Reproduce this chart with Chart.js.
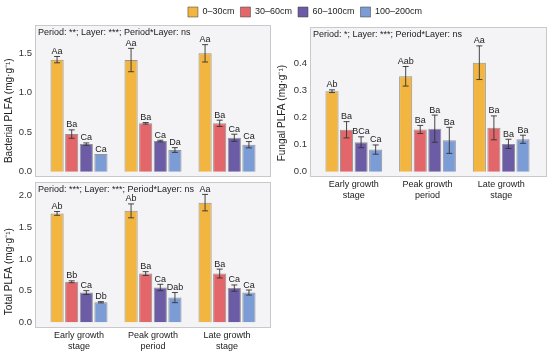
<!DOCTYPE html>
<html>
<head>
<meta charset="utf-8">
<script src="https://cdn.jsdelivr.net/npm/chart.js@4.4.1/dist/chart.umd.min.js"></script>
<style>
  body { margin: 0; background: #fff; }
  #wrap { position: relative; width: 550px; height: 354px; }
  canvas { position: absolute; }
</style>
</head>
<body>
<div id="wrap">
  <canvas id="bacChart" width="275" height="180" style="left:0;top:0"></canvas>
  <canvas id="totChart" width="275" height="174" style="left:0;top:180px"></canvas>
  <canvas id="funChart" width="478" height="210" style="left:72px;top:0"></canvas>
</div>
<script>
// categories and soil layers
let periods = [['Early growth', 'stage'], ['Peak growth', 'period'], ['Late growth', 'stage']];
let layers = ['0–30cm', '30–60cm', '60–100cm', '100–200cm'];
let colors = ['#F2B53F', '#E3676A', '#6B5CA5', '#7C9CD6'];

// bacterial PLFA, one array per layer (early, peak, late)
let bac0 = [1.42, 1.415, 1.50];
let bac1 = [0.477, 0.613, 0.613];
let bac2 = [0.35, 0.389, 0.43];
let bac3 = [0.224, 0.275, 0.342];
let bacErr = [[0.04, 0.148, 0.11], [0.053, 0.01, 0.04], [0.015, 0.01, 0.045], [0.0, 0.03, 0.04]];
let bacLetters = [['Aa', 'Aa', 'Aa'], ['Ba', 'Ba', 'Ba'], ['Ca', 'Ca', 'Ca'], ['Ca', 'Da', 'Ca']];
let bacTicks = [0, 0.5, 1.0, 1.5];

// total PLFA
let tot0 = [1.72, 1.76, 1.89];
let tot1 = [0.64, 0.77, 0.77];
let tot2 = [0.47, 0.55, 0.54];
let tot3 = [0.316, 0.39, 0.47];
let totErr = [[0.03, 0.11, 0.13], [0.015, 0.03, 0.07], [0.03, 0.05, 0.05], [0.01, 0.08, 0.04]];
let totLetters = [['Ab', 'Ab', 'Aa'], ['Bb', 'Ba', 'Ba'], ['Ca', 'Ca', 'Ca'], ['Db', 'Dab', 'Ca']];
let totTicks = [0, 0.5, 1.0, 1.5, 2.0];

// fungal PLFA
let fun0 = [0.297, 0.352, 0.402];
let fun1 = [0.155, 0.156, 0.162];
let fun2 = [0.109, 0.159, 0.103];
let fun3 = [0.082, 0.116, 0.12];
let funErr = [[0.005, 0.036, 0.062], [0.03, 0.015, 0.044], [0.02, 0.05, 0.017], [0.017, 0.048, 0.015]];
let funLetters = [['Ab', 'Aab', 'Aa'], ['Ba', 'Ba', 'Ba'], ['BCa', 'Ba', 'Ba'], ['Ca', 'Ba', 'Ba']];
let funTicks = [0, 0.1, 0.2, 0.3, 0.4];

let bacStats = 'Period: **; Layer: ***; Period*Layer: ns';
let totStats = 'Period: ***; Layer: ***; Period*Layer: ns';
let funStats = 'Period: *; Layer: ***; Period*Layer: ns';

Chart.defaults.font.family = '"Liberation Sans", Arial, sans-serif';
Chart.defaults.color = '#222';

// grey panel box, error bars and letters
let panelPlugin = {
    id: 'panel',
    beforeDraw(chart, args, opts) {
        let ctx = chart.ctx, a = chart.chartArea;
        let l = a.left - opts.padL, r = a.right + opts.padR;
        ctx.save();
        ctx.fillStyle = '#F4F4F7';
        ctx.fillRect(l, a.top, r - l, a.bottom - a.top);
        ctx.strokeStyle = '#C9C9C9';
        ctx.lineWidth = 1;
        ctx.strokeRect(l + 0.5, a.top + 0.5, r - l - 1, a.bottom - a.top - 1);
        ctx.fillStyle = '#222';
        ctx.font = '9px "Liberation Sans", Arial, sans-serif';
        ctx.textBaseline = 'middle';
        ctx.fillText(opts.stats, l + 3, a.top + 8);
        ctx.restore();
    },
    afterDatasetsDraw(chart) {
        let ctx = chart.ctx, y = chart.scales.y;
        ctx.save();
        ctx.strokeStyle = '#333';
        ctx.lineWidth = 0.9;
        ctx.fillStyle = '#222';
        ctx.font = '9px "Liberation Sans", Arial, sans-serif';
        ctx.textAlign = 'center';
        ctx.textBaseline = 'alphabetic';
        chart.data.datasets.forEach((ds, di) => {
            chart.getDatasetMeta(di).data.forEach((bar, i) => {
                let v = ds.data[i], e = ds.errors[i];
                let yt = y.getPixelForValue(v + e), yb = y.getPixelForValue(v - e);
                if (e > 0) {
                    ctx.beginPath();
                    ctx.moveTo(bar.x, yt); ctx.lineTo(bar.x, yb);
                    ctx.moveTo(bar.x - 3, yt); ctx.lineTo(bar.x + 3, yt);
                    ctx.moveTo(bar.x - 3, yb); ctx.lineTo(bar.x + 3, yb);
                    ctx.stroke();
                }
                ctx.fillText(ds.letters[i], bar.x, yt - 2.5);
            });
        });
        ctx.restore();
    }
};

function makeSets(series, errs, letters) {
    return series.map((d, k) => ({
        label: layers[k],
        data: d,
        errors: errs[k],
        letters: letters[k],
        backgroundColor: colors[k],
        borderColor: 'rgba(70, 70, 70, 0.55)',
        borderWidth: 1,
        categoryPercentage: 0.79,
        barPercentage: 0.9
    }));
}

function yAxis(min, max, ticks, title, width, titlePad) {
    return {
        min: min,
        max: max,
        afterBuildTicks: s => { s.ticks = ticks.map(v => ({ value: v })); },
        afterFit: s => { s.width = width; s.paddingTop = 0; s.paddingBottom = 0; },
        grid: { display: false, drawTicks: false },
        border: { display: false },
        ticks: { padding: 10, font: { size: 9.5 }, color: '#333', callback: v => v.toFixed(1) },
        title: { display: true, text: title, font: { size: 10 }, color: '#222', padding: { top: titlePad, bottom: 0 } }
    };
}

function xAxis(show, height) {
    return {
        display: show,
        afterFit: s => { s.height = height; },
        grid: { display: false, drawTicks: false },
        border: { display: false },
        ticks: { padding: 2, font: { size: 9 }, color: '#222', maxRotation: 0, autoSkip: false }
    };
}

// bacterial chart
let bacChart = new Chart(document.getElementById('bacChart').getContext('2d'), {
    type: 'bar',
    data: { labels: periods, datasets: makeSets([bac0, bac1, bac2, bac3], bacErr, bacLetters) },
    options: {
        responsive: false,
        animation: false,
        layout: { padding: { left: 0, right: 11, top: 25, bottom: 3 } },
        scales: {
            x: xAxis(false, 0),
            y: yAxis(-0.067, 1.859, bacTicks, 'Bacterial PLFA (mg·g⁻¹)' + ' '.repeat(7), 42, 3)
        },
        plugins: {
            legend: { display: false },
            tooltip: { enabled: false },
            panel: { padL: 7, padR: 7, stats: bacStats }
        }
    },
    plugins: [panelPlugin]
});

// total chart
let totChart = new Chart(document.getElementById('totChart').getContext('2d'), {
    type: 'bar',
    data: { labels: periods, datasets: makeSets([tot0, tot1, tot2, tot3], totErr, totLetters) },
    options: {
        responsive: false,
        animation: false,
        layout: { padding: { left: 0, right: 11, top: 2, bottom: 0 } },
        scales: {
            x: xAxis(true, 26),
            y: yAxis(-0.09, 2.216, totTicks, 'Total PLFA (mg·g⁻¹)' + ' '.repeat(12), 42, 3)
        },
        plugins: {
            legend: { display: false },
            tooltip: { enabled: false },
            panel: { padL: 7, padR: 7, stats: totStats }
        }
    },
    plugins: [panelPlugin]
});

// fungal chart, carries the legend
let funChart = new Chart(document.getElementById('funChart').getContext('2d'), {
    type: 'bar',
    data: { labels: periods, datasets: makeSets([fun0, fun1, fun2, fun3], funErr, funLetters) },
    options: {
        responsive: false,
        animation: false,
        layout: { padding: { left: 0, right: 12, top: 1, bottom: 3 } },
        scales: {
            x: xAxis(true, 30),
            y: yAxis(-0.019, 0.5335, funTicks, 'Fungal PLFA (mg·g⁻¹)' + ' '.repeat(8), 245, 204)
        },
        plugins: {
            legend: {
                display: true,
                position: 'top',
                labels: { boxWidth: 10, boxHeight: 10, padding: 6, font: { size: 9 }, color: '#222' }
            },
            tooltip: { enabled: false },
            panel: { padL: 7, padR: 9, stats: funStats }
        }
    },
    plugins: [panelPlugin]
});
</script>
</body>
</html>
